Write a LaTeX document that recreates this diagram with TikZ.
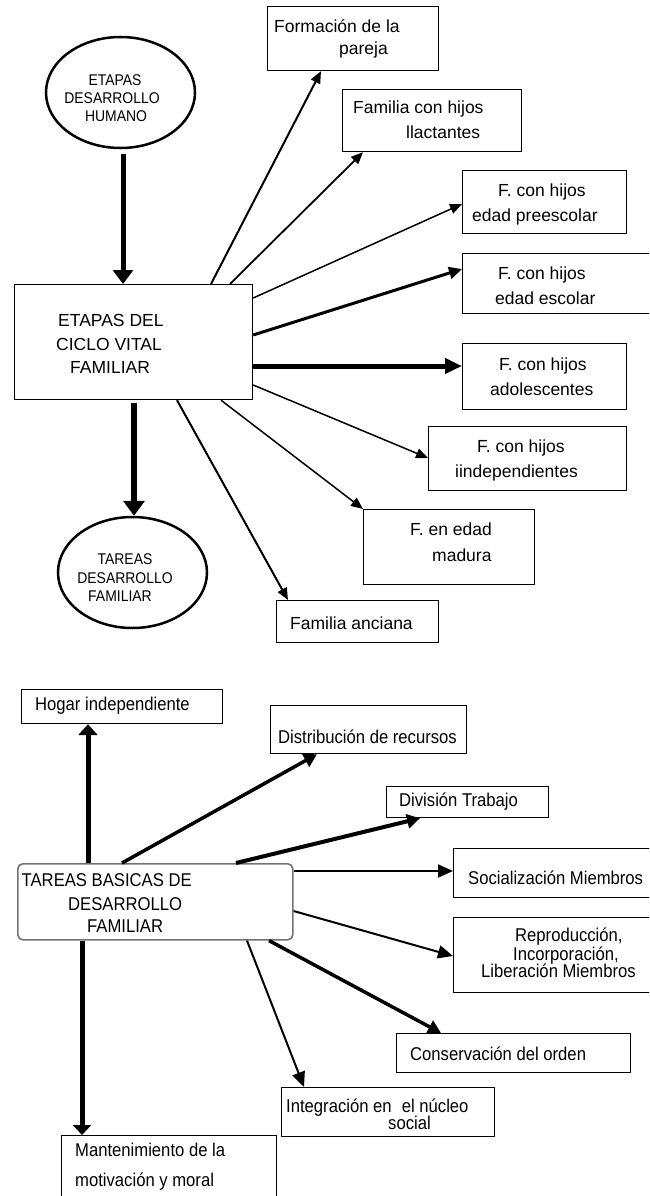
\documentclass[tikz,border=0pt]{standalone}
\usepackage{fontspec}
\setmainfont{Liberation Sans}
\newfontfamily\narrowfam[FakeStretch=0.9]{Liberation Sans}
\usetikzlibrary{arrows.meta,calc,shapes.geometric}
\newcommand\mytop{\fontsize{17.5}{21}\selectfont}
\newcommand\mylow{\narrowfam\fontsize{18.5}{22}\selectfont}
\newcommand\myell{\narrowfam\fontsize{15.5}{18}\selectfont}
\newcommand\mkbox[6][]{\node[box,#1,minimum width={#5-#3},minimum height={#6-#4}] (#2) at (#3,#4) {};}
\begin{document}
\begin{tikzpicture}[x=1pt,y=-1pt,
  box/.style={draw, line width=1.2pt, inner sep=0pt, anchor=north west},
  roundbox/.style={draw=black!55, line width=1.6pt, rounded corners=5pt},
  ell/.style={draw, ellipse, line width=2.5pt, inner sep=0pt, minimum width=149pt, minimum height=111pt},
  tt/.style={inner sep=0pt, anchor=base west, font=\mytop},
  tl/.style={inner sep=0pt, anchor=base west, font=\mylow},
  te/.style={inner sep=0pt, anchor=base, font=\myell},
  arr/.style={line cap=butt},
  hthin/.style={-{Triangle[length=12pt,width=10pt]}},
  hbig/.style={-{Triangle[length=14pt,width=20pt]}},
  hmid/.style={-{Triangle[length=15pt,width=13pt]}}
]
\useasboundingbox (0,0) rectangle (649,1196);
\fill[white] (0,0) rectangle (649,1196);
\clip (0,0) rectangle (649,1196);

% ---------- upper diagram ----------
\node[ell] (E1) at (120.5,92.5) {};
\node[te] (e1a) at (115,86) {ETAPAS};
\node[te] (e1b) at (112,104) {DESARROLLO};
\node[te] (e1c) at (116,121.7) {HUMANO};

\mkbox{B0}{14}{284}{252}{399}
\node[tt] (B0a) at (58,326) {ETAPAS DEL};
\node[tt] (B0b) at (56,350.7) {CICLO VITAL};
\node[tt] (B0c) at (70,373.3) {FAMILIAR};

\mkbox{b1}{267}{6}{438}{70}
\node[tt] (b1a) at (274,32.3) {Formación de la};
\node[tt] (b1b) at (339,55) {pareja};

\mkbox{b2}{342}{89}{521}{151}
\node[tt] (b2a) at (353,113.3) {Familia con hijos};
\node[tt] (b2b) at (406,138.3) {llactantes};

\mkbox{b3}{462}{170}{626}{233}
\node[tt] (b3a) at (498,196.7) {F. con hijos};
\node[tt] (b3b) at (472,221.7) {edad preescolar};

\mkbox{b4}{462}{253}{660}{313}
\node[tt] (b4a) at (498,279.3) {F. con hijos};
\node[tt] (b4b) at (495,304) {edad escolar};

\mkbox{b5}{462}{343}{626}{409}
\node[tt] (b5a) at (499,370.7) {F. con hijos};
\node[tt] (b5b) at (490,395.7) {adolescentes};

\mkbox{b6}{428}{426}{626}{490}
\node[tt] (b6a) at (477,452.7) {F. con hijos};
\node[tt] (b6b) at (455,477.7) {iindependientes};

\mkbox{b7}{363}{509}{534}{584}
\node[tt] (b7a) at (410,535.3) {F. en edad};
\node[tt] (b7b) at (432,561) {madura};

\mkbox{b8}{276}{600}{438}{642}
\node[tt] (b8a) at (290,629.3) {Familia anciana};

\node[ell] (E2) at (132.5,572.5) {};
\node[te] (e2a) at (125,564) {TAREAS};
\node[te] (e2b) at (125,583.3) {DESARROLLO};
\node[te] (e2c) at (120,601) {FAMILIAR};

\draw[arr, line width=5pt, hbig, shorten <=5pt] (123,0 |- E1.south) -- (123,0 |- B0.north);
\draw[arr, line width=2pt, hthin] (211,0 |- B0.north) -- (321,0 |- b1.south);
\draw[arr, line width=1.8pt, hthin] (230,0 |- B0.north) -- (363,0 |- b2.south);
\draw[arr, line width=1.5pt, hthin] (B0.east |- 0,298) -- (b3.west |- 0,204);
\draw[arr, line width=3pt, -{Triangle[length=13pt,width=12pt]}] (B0.east |- 0,335) -- (b4.west |- 0,269);
\draw[arr, line width=5pt, -{Triangle[length=17pt,width=15pt]}] (B0.east |- 0,366) -- (b5.west |- 0,366);
\draw[arr, line width=1.5pt, hthin] (B0.east |- 0,385) -- (b6.west |- 0,458);
\draw[arr, line width=1.5pt, hthin] (221,0 |- B0.south) -- (b7.north west);
\draw[arr, line width=2pt, hthin] (177,0 |- B0.south) -- (288,0 |- b8.north);
\draw[arr, line width=5.5pt, -{Triangle[length=15pt,width=21pt]}, shorten <=3pt] (134,0 |- B0.south) -- (134,0 |- E2.north);

% ---------- lower diagram ----------
\node[roundbox, inner sep=0pt, anchor=north west, minimum width=275pt, minimum height=76pt] (T) at (17,863) {};
\node[tl] (Ta) at (21.5,886.7) {TAREAS BASICAS DE};
\node[tl] (Tb) at (68,910.7) {DESARROLLO};
\node[tl] (Tc) at (87,932.7) {FAMILIAR};

\mkbox{H}{21}{689}{222}{723}
\node[tl] (Ha) at (35,710) {Hogar independiente};

\mkbox{D}{270}{705}{466}{753}
\node[tl] (Da) at (278,743.3) {Distribución de recursos};

\mkbox{V}{386}{786}{548}{817}
\node[tl] (Va) at (399,806.7) {División Trabajo};

\mkbox{S}{453}{848}{660}{897}
\node[tl] (Sa) at (468,884) {Socialización Miembros};

\mkbox{R}{453}{917}{660}{992}
\node[tl] (Ra) at (515,941.7) {Reproducción,};
\node[tl] (Rb) at (513,960) {Incorporación,};
\node[tl] (Rc) at (481,977.3) {Liberación Miembros};

\mkbox{C}{396}{1033}{630}{1072}
\node[tl] (Ca) at (410,1060.7) {Conservación del orden};

\mkbox{I}{281}{1087}{494}{1136}
\node[tl] (Ia) at (286,1112.7) {Integración en\hspace{0.3em} el núcleo};
\node[tl] (Ib) at (388,1129.3) {social};

\mkbox{M}{61}{1135}{276}{1210}
\node[tl] (Ma) at (75,1156) {Mantenimiento de la};
\node[tl] (Mb) at (75,1186) {motivación y moral};

\draw[arr, line width=5pt, -{Triangle[length=11pt,width=19pt]}] (88,0 |- T.north) -- (88,0 |- H.south);
\draw[arr, line width=3.5pt, -{Triangle[length=13pt,width=14pt]}] (122,0 |- T.north) -- (317,0 |- D.south);
\draw[arr, line width=4pt, -{Triangle[length=13pt,width=14pt]}] (236,0 |- T.north) -- (420,0 |- V.south);
\draw[arr, line width=2pt, hmid] (T.east |- 0,871) -- (S.west |- 0,871);
\draw[arr, line width=2pt, hmid] (T.east |- 0,911) -- (R.west |- 0,956);
\draw[arr, line width=3.5pt, -{Triangle[length=13pt,width=14pt]}] (269,0 |- T.south) -- (441,0 |- C.north);
\draw[arr, line width=2pt, hmid] (247,0 |- T.south) -- (304,0 |- I.north);
\draw[arr, line width=5pt, -{Triangle[length=10pt,width=18pt]}] (82,0 |- T.south) -- (82,0 |- M.north);
\end{tikzpicture}
\end{document}
